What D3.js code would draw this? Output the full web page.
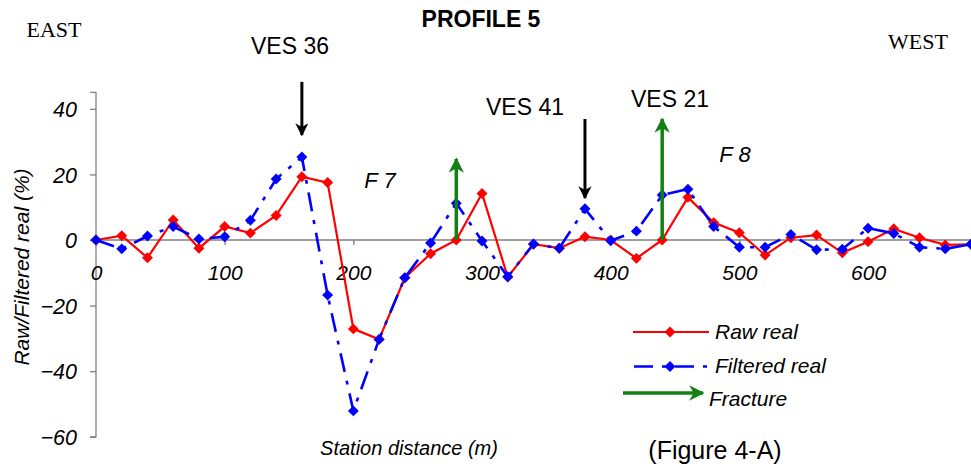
<!DOCTYPE html>
<html>
<head>
<meta charset="utf-8">
<script src="https://cdn.jsdelivr.net/npm/d3@7/dist/d3.min.js"></script>
<style>
  html, body { margin: 0; padding: 0; background: #fff; }
  svg { display: block; }
</style>
</head>
<body>
<svg id="chart" width="971" height="470"></svg>
<script>
// Station distances (m)
const stations = [0, 20, 40, 60, 80, 100, 120, 140, 160, 180, 200, 220, 240, 260, 280, 300, 320, 340,
  360, 380, 400, 420, 440, 460, 480, 500, 520, 540, 560, 580, 600, 620, 640, 660, 680];

// Raw real component (%)
const rawReal = [0, 1.3, -5.4, 6.1, -2.5, 4.1, 2.1, 7.5, 19.3, 17.5, -27.1, -30.3, -11.5, -4.2, 0, 14.2, -11.3, -1.3,
  -2.5, 1, 0, -5.6, 0, 13, 5.3, 2.2, -4.6, 0.7, 1.5, -3.9, -0.5, 3.4, 0.7, -1.5, -1.3];

// Filtered real component (%)
const filteredReal = [0, -2.7, 1.2, 4.1, 0.3, 1, 6, 18.6, 25.3, -16.8, -52.1, -30.3, -11.5, -0.9, 11.2, -0.3, -11.2, -1.2,
  -2.5, 9.5, -0.2, 2.7, 13.7, 15.5, 4.1, -2.2, -2.2, 1.7, -3, -2.8, 3.6, 2, -2.2, -2.7, -1.3];

// Axis ticks
const xTicks = [0, 100, 200, 300, 400, 500, 600];
const yTicks = [-60, -40, -20, 0, 20, 40];

// VES soundings marked with down arrows (station, arrow top value, arrow tip value)
const vesStations = [160, 380];
const vesFrom = [48.2, 36.9];
const vesTo = [32, 12.8];

// Fracture arrows rising from the zero line (station, tip value)
const fractureStations = [280, 440];
const fractureTop = [24.7, 36.9];

const svg = d3.select("#chart");
const W = 971;

const x = d3.scaleLinear().domain([0, 680]).range([96, 971]);
const y = d3.scaleLinear().domain([-60, 45]).range([436.8, 92.4]);

const axisColor = "#7f7f7f";
const green = "#128012";
const sans = "Arial, 'Liberation Sans', sans-serif";
const serif = "'Liberation Serif', 'Times New Roman', serif";

svg.append("defs").selectAll("marker")
  .data([["headBlack", "#000"], ["headGreen", green]])
  .join("marker")
  .attr("id", d => d[0])
  .attr("viewBox", "0 0 10 10")
  .attr("refX", 9).attr("refY", 5)
  .attr("markerWidth", 4.4).attr("markerHeight", 4.4)
  .attr("markerUnits", "strokeWidth")
  .attr("orient", "auto")
  .append("path")
  .attr("d", "M0,0 L10,5 L0,10 L3,5 Z")
  .attr("fill", d => d[1]);

// Y axis
const yAxis = d3.axisLeft(y).tickValues(yTicks).tickSize(6).tickFormat(d3.format("d"));
const gy = svg.append("g").attr("transform", `translate(${x(0)},0)`).call(yAxis);
gy.select(".domain").attr("stroke", axisColor).attr("stroke-width", 1.3).attr("d", `M-6,${y(45)}H0V${y(-60)}H-6`);
gy.selectAll(".tick line").attr("stroke", axisColor).attr("stroke-width", 1.3);
gy.selectAll(".tick text")
  .attr("x", -19)
  .attr("dy", "0.36em")
  .style("font-family", sans)
  .style("font-style", "italic")
  .style("font-size", "21.5px")
  .attr("fill", "#000");

// X axis along the zero line
const xAxis = d3.axisBottom(x).tickValues(xTicks).tickSize(5).tickFormat(d3.format("d"));
const gx = svg.append("g").attr("transform", `translate(0,${y(0)})`).call(xAxis);
gx.select(".domain").attr("stroke", axisColor).attr("stroke-width", 1.3).attr("d", `M${x(0)},0H${W}`);
gx.selectAll(".tick line").attr("stroke", axisColor).attr("stroke-width", 1.3);
gx.selectAll(".tick").filter(d => d === 0).select("line").remove();
gx.selectAll(".tick text")
  .attr("y", 25)
  .attr("dy", "0.71em")
  .style("font-family", sans)
  .style("font-style", "italic")
  .style("font-size", "21px")
  .attr("fill", "#000");

// Square diamond marker
const diamondType = {
  draw(context, size) {
    const r = Math.sqrt(size / 2);
    context.moveTo(0, -r);
    context.lineTo(r, 0);
    context.lineTo(0, r);
    context.lineTo(-r, 0);
    context.closePath();
  }
};
const diamond = d3.symbol().type(diamondType).size(60);

const line = d3.line().x(d => x(d[0])).y(d => y(d[1]));

const rawPts = stations.map((s, i) => [s, rawReal[i]]);
const filtPts = stations.map((s, i) => [s, filteredReal[i]]);

// Raw real series
svg.append("path").datum(rawPts)
  .attr("d", line).attr("fill", "none")
  .attr("stroke", "#ff0000").attr("stroke-width", 2.2);
svg.append("g").selectAll("path").data(rawPts).join("path")
  .attr("transform", d => `translate(${x(d[0])},${y(d[1])})`)
  .attr("d", diamond).attr("fill", "#ff0000");

// Filtered real series (long dash - dot)
svg.append("path").datum(filtPts)
  .attr("d", line).attr("fill", "none")
  .attr("stroke", "#0000ff").attr("stroke-width", 2.6)
  .attr("stroke-dasharray", "19,9,4,9");
svg.append("g").selectAll("path").data(filtPts).join("path")
  .attr("transform", d => `translate(${x(d[0])},${y(d[1])})`)
  .attr("d", diamond).attr("fill", "#0000ff");

// VES arrows (black, pointing down)
svg.append("g").selectAll("line").data(vesStations).join("line")
  .attr("x1", d => x(d)).attr("x2", d => x(d))
  .attr("y1", (d, i) => y(vesFrom[i])).attr("y2", (d, i) => y(vesTo[i]))
  .attr("stroke", "#000").attr("stroke-width", 3)
  .attr("marker-end", "url(#headBlack)");

// Fracture arrows (green, pointing up)
svg.append("g").selectAll("line").data(fractureStations).join("line")
  .attr("x1", d => x(d)).attr("x2", d => x(d))
  .attr("y1", y(0)).attr("y2", (d, i) => y(fractureTop[i]))
  .attr("stroke", green).attr("stroke-width", 3.5)
  .attr("marker-end", "url(#headGreen)");

function txt(t, px, py, opts = {}) {
  return svg.append("text")
    .attr("x", px).attr("y", py)
    .attr("text-anchor", opts.anchor || "middle")
    .style("font-family", opts.family || sans)
    .style("font-size", (opts.size || 23) + "px")
    .style("font-style", opts.italic ? "italic" : "normal")
    .style("font-weight", opts.bold ? "bold" : "normal")
    .attr("fill", "#000")
    .text(t);
}

// Titles and annotations
txt("PROFILE 5", 481, 27, { bold: true, size: 23 });
txt("EAST", 54, 37, { family: serif, size: 22 });
txt("WEST", 918, 49, { family: serif, size: 22 });
txt("VES 36", 290, 54);
txt("VES 41", 525, 115);
txt("VES 21", 670, 107);
txt("F 7", 380, 188, { italic: true, size: 22 });
txt("F 8", 735, 162, { italic: true, size: 22 });

// Axis titles
svg.append("text")
  .attr("transform", "translate(29,267) rotate(-90)")
  .attr("text-anchor", "middle")
  .style("font-family", sans).style("font-size", "21px").style("font-style", "italic")
  .text("Raw/Filtered real (%)");
txt("Station distance (m)", 409, 455, { italic: true, size: 20 });
txt("(Figure 4-A)", 715, 459, { size: 25 });

// Legend
const lg = svg.append("g");
lg.append("line").attr("x1", 633).attr("x2", 709).attr("y1", 332).attr("y2", 332)
  .attr("stroke", "#ff0000").attr("stroke-width", 2.2);
lg.append("path").attr("transform", "translate(670,332)").attr("d", diamond).attr("fill", "#ff0000");
lg.append("line").attr("x1", 634).attr("x2", 708).attr("y1", 366.5).attr("y2", 366.5)
  .attr("stroke", "#0000ff").attr("stroke-width", 2.6).attr("stroke-dasharray", "19,9,4,9");
lg.append("path").attr("transform", "translate(670,366.5)").attr("d", diamond).attr("fill", "#0000ff");
lg.append("line").attr("x1", 623).attr("x2", 703).attr("y1", 393).attr("y2", 393)
  .attr("stroke", green).attr("stroke-width", 3.5).attr("marker-end", "url(#headGreen)");
txt("Raw real", 715, 339, { anchor: "start", italic: true, size: 21 });
txt("Filtered real", 715, 373, { anchor: "start", italic: true, size: 21 });
txt("Fracture", 709, 406, { anchor: "start", italic: true, size: 21 });
</script>
</body>
</html>
